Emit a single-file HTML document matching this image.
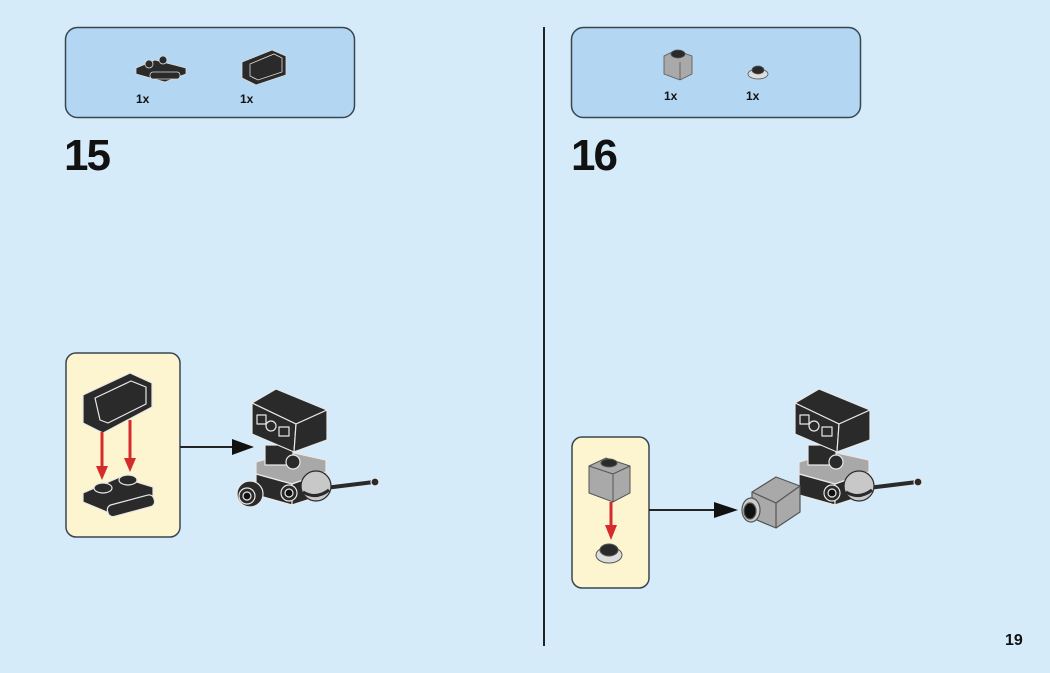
<!DOCTYPE html>
<html><head><meta charset="utf-8"><style>
html,body{margin:0;padding:0;background:#d6ebfa;}
svg{display:block}
text{font-family:"Liberation Sans",sans-serif;font-weight:bold;fill:#111}
</style></head><body>
<svg width="1050" height="673" viewBox="0 0 1050 673" xmlns="http://www.w3.org/2000/svg">
<defs>
<g id="cam" stroke="#e8e8e8" stroke-width="1.2" stroke-linejoin="round">
  <!-- gray base -->
  <polygon points="256,462 290,452 326,460 326,472 292,484 256,474" fill="#a8a8a8"/>
  <polygon points="256,474 292,484 292,505 256,495" fill="#2a2a2a"/>
  <polygon points="292,484 326,472 326,494 292,505" fill="#2a2a2a"/>
  <circle cx="289" cy="493" r="8" fill="#2a2a2a"/>
  <circle cx="289" cy="493" r="4" fill="#111"/>
  <!-- stem -->
  <rect x="265" y="445" width="28" height="20" fill="#2a2a2a"/>
  <circle cx="293" cy="462" r="7" fill="#2a2a2a"/>
  <!-- black box -->
  <polygon points="252,403 276,389 327,410 296,424" fill="#2a2a2a"/>
  <polygon points="252,403 296,424 294,452 252,434" fill="#2a2a2a"/>
  <polygon points="296,424 327,410 327,440 294,452" fill="#2a2a2a"/>
  <rect x="257" y="415" width="9" height="9" fill="none"/>
  <circle cx="271" cy="426" r="5" fill="none"/>
  <rect x="279" y="427" width="10" height="9" fill="none"/>
  <!-- rod -->
  <line x1="325" y1="488" x2="374" y2="482" stroke="#2a2a2a" stroke-width="4"/>
  <circle cx="375" cy="482" r="4" fill="#2a2a2a"/>
  <!-- ball -->
  <circle cx="316" cy="486" r="15" fill="#c8c8c8" stroke="#2a2a2a"/>
  <path d="M303,492 Q316,500 329,490" fill="none" stroke="#2a2a2a" stroke-width="3"/>
</g>
</defs>

<!-- parts boxes -->
<rect x="65.5" y="27.5" width="289" height="90" rx="12" fill="#b3d6f2" stroke="#38464f" stroke-width="1.5"/>
<rect x="571.5" y="27.5" width="289" height="90" rx="12" fill="#b3d6f2" stroke="#38464f" stroke-width="1.5"/>

<!-- step15 parts -->
<g stroke="#ddd" stroke-width="0.8">
<polygon points="136,68 155,60 186,68 186,74 165,82 136,74" fill="#2a2a2a"/>
<circle cx="149" cy="64" r="4" fill="#2a2a2a"/><circle cx="163" cy="60" r="4" fill="#2a2a2a"/>
<rect x="150" y="72" width="30" height="7" rx="3" fill="#2a2a2a"/>
<polygon points="242,62 272,50 286,56 286,75 256,85 242,78" fill="#2a2a2a"/>
<polygon points="250,64 274,54 282,58 282,72 258,80 250,76" fill="none"/>
</g>
<text x="136" y="103" font-size="12">1x</text>
<text x="240" y="103" font-size="12">1x</text>

<!-- step16 parts -->
<g stroke="#555" stroke-width="0.8">
<polygon points="664,56 676,50 692,56 692,74 680,80 664,74" fill="#a9a9a9"/>
<line x1="680" y1="62" x2="680" y2="80"/>
<ellipse cx="678" cy="54" rx="7" ry="4" fill="#2a2a2a"/>
<ellipse cx="758" cy="74" rx="10" ry="5" fill="#ddd"/>
<ellipse cx="758" cy="70" rx="6" ry="4" fill="#2a2a2a"/>
</g>
<text x="664" y="100" font-size="12">1x</text>
<text x="746" y="100" font-size="12">1x</text>

<text x="64" y="170" font-size="44" style="letter-spacing:-2px">15</text>
<text x="571" y="170" font-size="44" style="letter-spacing:-2px">16</text>

<!-- divider -->
<line x1="544" y1="27" x2="544" y2="646" stroke="#222" stroke-width="2"/>

<!-- callouts -->
<rect x="66" y="353" width="114" height="184" rx="10" fill="#fdf4d0" stroke="#38464f" stroke-width="1.5"/>
<rect x="572" y="437" width="77" height="151" rx="10" fill="#fdf4d0" stroke="#38464f" stroke-width="1.5"/>

<!-- step15 callout content -->
<g stroke="#e8e8e8" stroke-width="1.2" stroke-linejoin="round">
<polygon points="83,395 130,373 152,383 152,407 103,433 83,423" fill="#2a2a2a"/>
<polygon points="95,398 131,381 146,387 146,404 108,423 100,420" fill="none"/>
<polygon points="83,493 120,477 153,487 153,497 107,512 83,502" fill="#2a2a2a"/>
<ellipse cx="103" cy="488" rx="9" ry="5" fill="#2a2a2a"/>
<ellipse cx="128" cy="480" rx="9" ry="5" fill="#2a2a2a"/>
<rect x="107" y="500" width="48" height="12" rx="5" fill="#2a2a2a" transform="rotate(-15 130 506)"/>
</g>
<g stroke="#d52b2b" stroke-width="3" fill="#d52b2b">
<line x1="102" y1="432" x2="102" y2="470"/><polygon points="96,466 108,466 102,480" stroke="none"/>
<line x1="130" y1="420" x2="130" y2="462"/><polygon points="124,458 136,458 130,472" stroke="none"/>
</g>

<!-- step16 callout content -->
<g stroke="#555" stroke-width="1">
<polygon points="589,466 606,458 630,466 630,493 613,502 589,493" fill="#a9a9a9"/>
<line x1="613" y1="474" x2="613" y2="502"/>
<line x1="589" y1="466" x2="613" y2="474"/><line x1="613" y1="474" x2="630" y2="466"/>
<ellipse cx="609" cy="463" rx="8" ry="4" fill="#2a2a2a"/>
<ellipse cx="609" cy="555" rx="13" ry="8" fill="#ddd"/>
<ellipse cx="609" cy="550" rx="9" ry="6" fill="#2a2a2a"/>
</g>
<g stroke="#d52b2b" stroke-width="3" fill="#d52b2b">
<line x1="611" y1="502" x2="611" y2="530"/><polygon points="605,525 617,525 611,540" stroke="none"/>
</g>

<!-- arrows -->
<line x1="180" y1="447" x2="236" y2="447" stroke="#222" stroke-width="2"/>
<polygon points="232,439 254,447 232,455" fill="#111"/>
<line x1="649" y1="510" x2="718" y2="510" stroke="#222" stroke-width="2"/>
<polygon points="714,502 738,510 714,518" fill="#111"/>

<!-- cameras -->
<use href="#cam"/>
<g stroke="#e8e8e8" stroke-width="1.2">
<circle cx="250" cy="494" r="13" fill="#2a2a2a"/><circle cx="247" cy="496" r="8" fill="#2a2a2a"/><circle cx="247" cy="496" r="4" fill="#111"/>
</g>
<use href="#cam" transform="translate(543,0)"/>
<g stroke="#555" stroke-width="1.2" stroke-linejoin="round">
<polygon points="752,492 776,477 800,486 800,512 776,528 752,518" fill="#a9a9a9"/>
<line x1="776" y1="503" x2="776" y2="528"/><line x1="752" y1="492" x2="776" y2="503"/><line x1="776" y1="503" x2="800" y2="486"/>
<ellipse cx="751" cy="510" rx="9" ry="12" fill="#ccc"/>
<ellipse cx="750" cy="511" rx="6" ry="8" fill="#111"/>
</g>

<text x="1005" y="645" font-size="16">19</text>
</svg>
</body></html>
